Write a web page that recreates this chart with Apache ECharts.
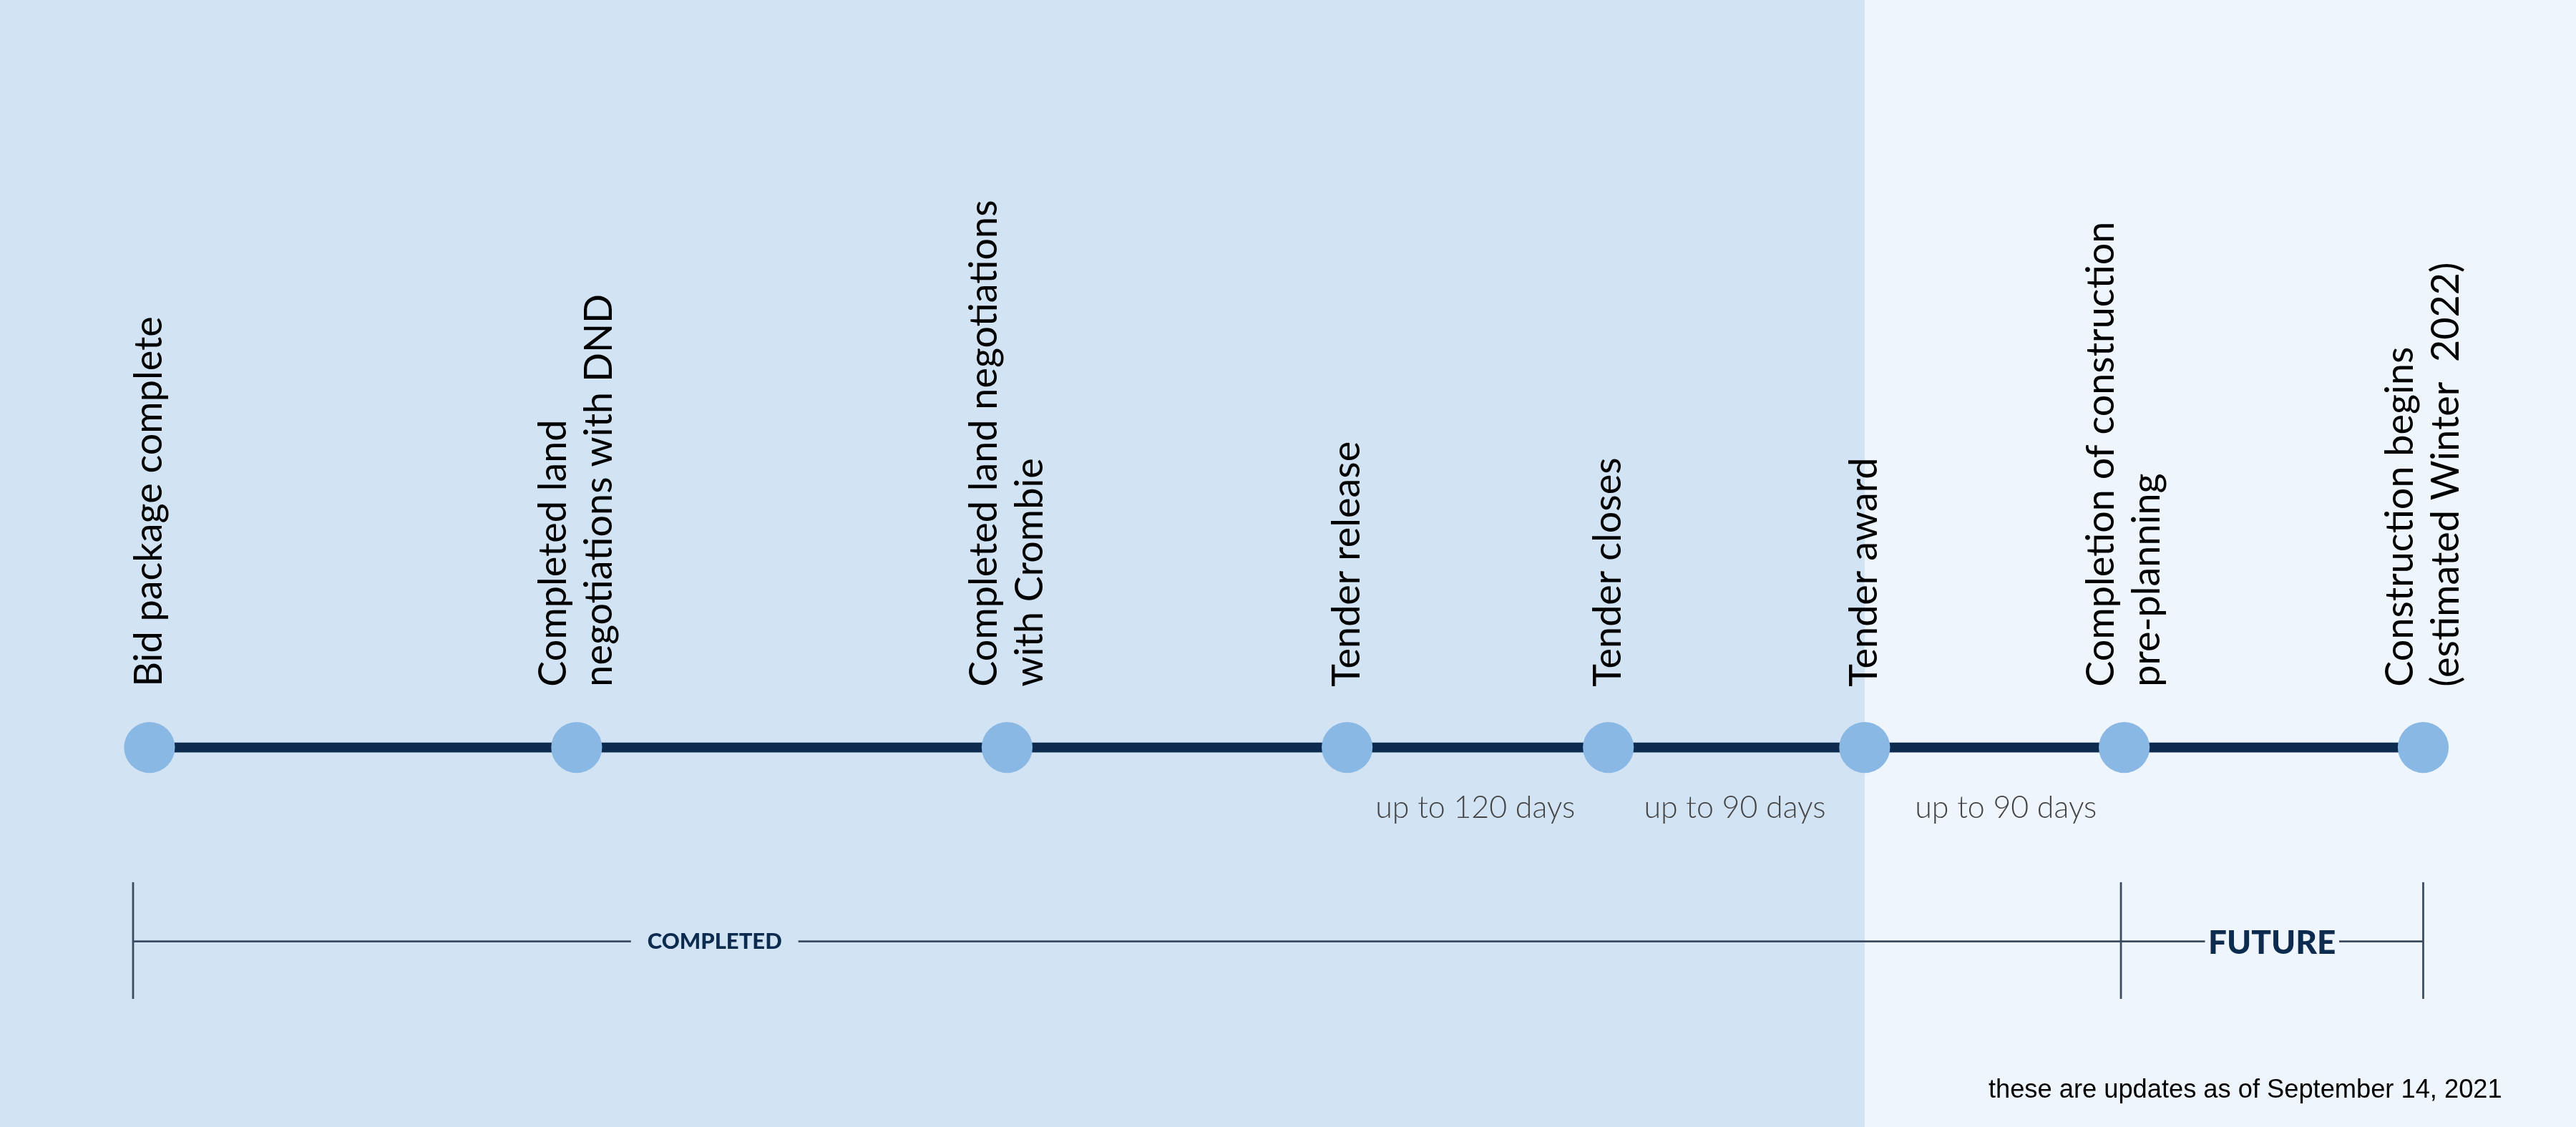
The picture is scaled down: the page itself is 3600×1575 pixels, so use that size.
<!DOCTYPE html>
<html><head><meta charset="utf-8">
<script src="https://cdn.jsdelivr.net/npm/echarts@6/dist/echarts.min.js"></script>
<style>html,body{margin:0;padding:0;background:#eef5fc}#c{width:3600px;height:1575px}</style>
</head><body><div id="c"></div>
<script>
const S = 3600/1568;
const milestones = ["Bid package complete","Completed land\nnegotiations with DND","Completed land negotiations\nwith Crombie","Tender release","Tender closes","Tender award","Completion of construction\npre-planning","Construction begins\n(estimated Winter  2022)"];
const milestonePos = [91,351,613,820,979,1135,1293,1475];
const intervals = ["up to 120 days","up to 90 days","up to 90 days"];
const intervalPos = [898,1056,1221];
const phases = ["COMPLETED","FUTURE"];
const phaseLabelPos = [435,1383];
const phaseBounds = [81,1291,1475];
const todayPos = 1135;
const footnote = "these are updates as of September 14, 2021";

const navy = '#0d2a4f';
const chart = echarts.init(document.getElementById('c'));
const lineY = 455, labY = 418, brY = 573;
const op = {opacity:1};
chart.setOption({
  animation:false,
  backgroundColor:'#eef5fc',
  grid:{left:0,right:0,top:0,bottom:0},
  xAxis:{type:'value',min:0,max:1568,show:false},
  yAxis:{type:'value',min:0,max:686,inverse:true,show:false},
  series:[
    {type:'line',data:[],markArea:{silent:true,itemStyle:{color:'#d2e3f3'},data:[[{xAxis:0,yAxis:0},{xAxis:todayPos,yAxis:686}]]}},
    {type:'line',data:[[milestonePos[0],lineY],[milestonePos[milestonePos.length-1],lineY]],symbol:'none',lineStyle:{color:navy,width:6*S},z:2},
    {type:'scatter',data:milestonePos.map(x=>[x,lineY]),symbolSize:31*S,itemStyle:{color:'#8ab8e4',opacity:1},z:3},
    {type:'scatter',symbolSize:1,itemStyle:{opacity:1,color:'transparent'},data:milestonePos.map((x,i)=>({value:[x,labY],label:{formatter:milestones[i]}})),
     label:{show:true,position:'inside',rotate:90,align:'left',verticalAlign:'middle',fontFamily:'Lato',fontWeight:'normal',fontSize:23.5*S,lineHeight:28*S,color:'#000',opacity:1}},
    {type:'scatter',symbolSize:1,itemStyle:{opacity:1,color:'transparent'},data:intervalPos.map((x,i)=>({value:[x,492],label:{formatter:intervals[i]}})),
     label:{show:true,position:'inside',fontFamily:'Lato',fontWeight:300,fontSize:18.7*S,color:'#444',opacity:1}},
    {type:'line',data:[[phaseBounds[0],brY],[phaseBounds[2],brY]],symbol:'none',lineStyle:{color:'#3a4a60',width:1.2*S},z:2},
    ...phaseBounds.map(x=>({type:'line',data:[[x,537],[x,608]],symbol:'none',lineStyle:{color:'#3a4a60',width:1.2*S},z:2})),
    {type:'scatter',symbolSize:1,itemStyle:{opacity:1,color:'transparent'},z:5,data:[
      {value:[phaseLabelPos[0],brY],label:{formatter:phases[0],fontSize:13.5*S,backgroundColor:'#d2e3f3',padding:[0,10*S]}},
      {value:[phaseLabelPos[1],brY+1],label:{formatter:phases[1],fontSize:20*S,backgroundColor:'#eef5fc',padding:[0,2*S]}}],
     label:{show:true,position:'inside',fontFamily:'Lato',fontWeight:900,color:navy,opacity:1}},
    {type:'scatter',symbolSize:1,itemStyle:{opacity:1,color:'transparent'},data:[{value:[1523,664],label:{formatter:footnote}}],
     label:{show:true,position:'inside',align:'right',fontFamily:'Liberation Sans',fontSize:15.8*S,color:'#000',opacity:1}}
  ]
});
</script></body></html>
